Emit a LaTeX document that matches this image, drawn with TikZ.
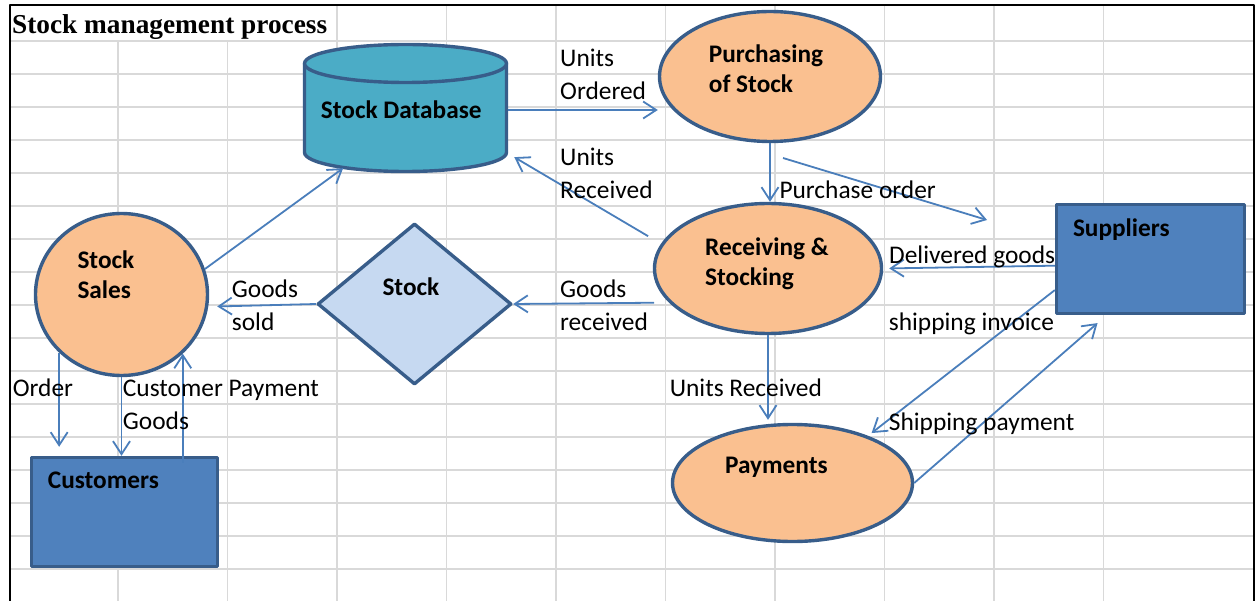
\documentclass[tikz,border=0pt]{standalone}
\usepackage{fontspec}
\setmainfont{Carlito}
\newfontfamily\tieude{Liberation Serif}
\usetikzlibrary{shapes.geometric,arrows.meta}
\definecolor{vien}{RGB}{56,93,138}
\definecolor{cam}{RGB}{250,192,144}
\definecolor{xanhkho}{RGB}{75,172,198}
\definecolor{xanhnhat}{RGB}{198,217,241}
\definecolor{xanhhop}{RGB}{79,129,189}
\definecolor{duong}{RGB}{74,126,187}
\definecolor{luoi}{RGB}{217,217,217}
\begin{document}
\begin{tikzpicture}[
	x=1pt, y=-1pt,
	line join=round,
	elip/.style={ellipse, draw=vien, fill=cam, line width=3.4pt, inner sep=0pt},
	hop/.style={rectangle, draw=vien, fill=xanhhop, line width=3.4pt, inner sep=0pt},
	chu/.style={anchor=base west, inner sep=0pt, align=left, font=\fontsize{25.4}{33}\selectfont},
	chuden/.style={anchor=base west, inner sep=0pt, align=left, font=\fontsize{25.3}{30}\selectfont\bfseries},
	muiten/.style={draw=duong, line width=1.8pt, -{Straight Barb[length=13pt,width=17pt]}}
	]
	\useasboundingbox (0,0) rectangle (1257,601);
	% luoi o
	\begin{scope}[draw=luoi, line width=1.8pt]
		\foreach \k in {0,...,16}
			\draw (10,41+33*\k) -- (1254,41+33*\k);
		\foreach \k in {0,1}
			\draw (118+109.5*\k,41) -- (118+109.5*\k,601);
		\foreach \k in {2,...,9}
			\draw (118+109.5*\k,5) -- (118+109.5*\k,601);
	\end{scope}
	\draw[line width=2pt] (10,601) -- (10,5) -- (1254,5) -- (1254,601);
	\node[anchor=base west, inner sep=0pt, font=\tieude\fontsize{27.3}{30}\selectfont\bfseries] (tieude) at (12,33.3) {Stock management process};
	% kho du lieu
	\fill[xanhkho] (304.5,63.5) -- (304.5,152.5) arc[start angle=180, end angle=0, x radius=101, y radius=19] -- (506.5,63.5) -- cycle;
	\draw[vien, line width=3.4pt] (304.5,63.5) -- (304.5,152.5) arc[start angle=180, end angle=0, x radius=101, y radius=19] -- (506.5,63.5);
	\filldraw[fill=xanhkho, draw=vien, line width=3.4pt] (405.5,63.5) ellipse [x radius=101, y radius=19];
	\node[minimum width=205pt, minimum height=116pt, inner sep=0pt] (kho) at (405.5,110) {};
	% cac khoi
	\node[elip, minimum width=221pt, minimum height=130pt] (mua) at (770,76.5) {};
	\node[elip, minimum width=227pt, minimum height=130pt] (nhan) at (768,268.5) {};
	\node[elip, minimum width=240pt, minimum height=117pt] (tt) at (792.5,483) {};
	\node[elip, minimum width=172pt, minimum height=162pt] (ban) at (121.5,294.5) {};
	\node[hop, minimum width=188pt, minimum height=109pt] (ncc) at (1150.5,259) {};
	\node[hop, minimum width=186pt, minimum height=109pt] (khach) at (124.5,512) {};
	\node[diamond, draw=vien, fill=xanhnhat, line width=3.4pt, inner sep=0pt,
		minimum width=194pt, minimum height=161pt] (hang) at (414.5,304) {};
	\coordinate (dh1) at (783,158);
	\coordinate (dh2) at (987,220);
	% mui ten
	\draw[muiten] (ban.17) -- (kho.-137);
	\draw[muiten] (kho.east) -- (kho.east -| mua.west);
	\draw[muiten] (mua.south) -- (mua.south |- nhan.north);
	\draw[muiten] (dh1) -- (dh2);
	\draw[muiten, shorten <=15pt, shorten >=7pt] (nhan.167.4) -- (kho.-23.9);
	\draw[muiten, shorten <=15pt] (nhan.-161) -- (hang.east);
	\draw[muiten, shorten >=9pt] (hang.west) -- (ban.-8.4);
	\draw[muiten, shorten >=9pt] (ban.-137.3) -- (ban.-137.3 |- khach.north);
	\draw[muiten] (ban.south) -- (ban.south |- khach.north);
	\draw[muiten, shorten <=-7pt] (ban.-44.6 |- khach.north) -- (ban.-44.6);
	\draw[muiten, shorten >=6pt] (ncc.-176.4) -- (nhan.east);
	\draw[muiten, shorten >=4.5pt] (ncc.-162.6) -- (tt.32.2);
	\draw[muiten, shorten >=12pt] (tt.east) -- (ncc.-128.5);
	\draw[muiten, shorten >=3pt] (nhan.south) -- (nhan.south |- tt.north);
	% chu tren khoi
	\node[chuden] (tkho) at (320.7,119) {Stock Database};
	\node[chuden] (tmua) at (708.7,92.3) {Purchasing\\of Stock};
	\node[chuden] (tnhan) at (705,286) {Receiving \&\\Stocking};
	\node[chuden] (tncc) at (1072.8,236.7) {Suppliers};
	\node[chuden] (thang) at (382.3,295.7) {Stock};
	\node[chuden] (tban) at (77.3,299) {Stock\\Sales};
	\node[chuden] (tkhach) at (47.7,488.3) {Customers};
	\node[chuden] (ttt) at (724.9,473.3) {Payments};
	% nhan mui ten
	\node[chu] (dathang) at (560,99.7) {Units\\Ordered};
	\node[chu] (danhan) at (560,198.3) {Units\\Received};
	\node[chu] (donmua) at (779.3,199) {Purchase order};
	\node[chu] (giaohang) at (889,264) {Delivered goods};
	\node[chu] (hangnhan) at (560,330.3) {Goods\\received};
	\node[chu] (hangban) at (231.7,330.7) {Goods\\sold};
	\node[chu] (don) at (12.7,396.7) {Order};
	\node[chu] (trakhach) at (122.7,396.7) {Customer Payment};
	\node[chu] (hangkhach) at (122.7,429.3) {Goods};
	\node[chu] (hoadon) at (888.7,330.7) {shipping invoice};
	\node[chu] (nhantt) at (669.6,396.7) {Units Received};
	\node[chu] (trancc) at (888.7,430) {Shipping payment};
\end{tikzpicture}
\end{document}
